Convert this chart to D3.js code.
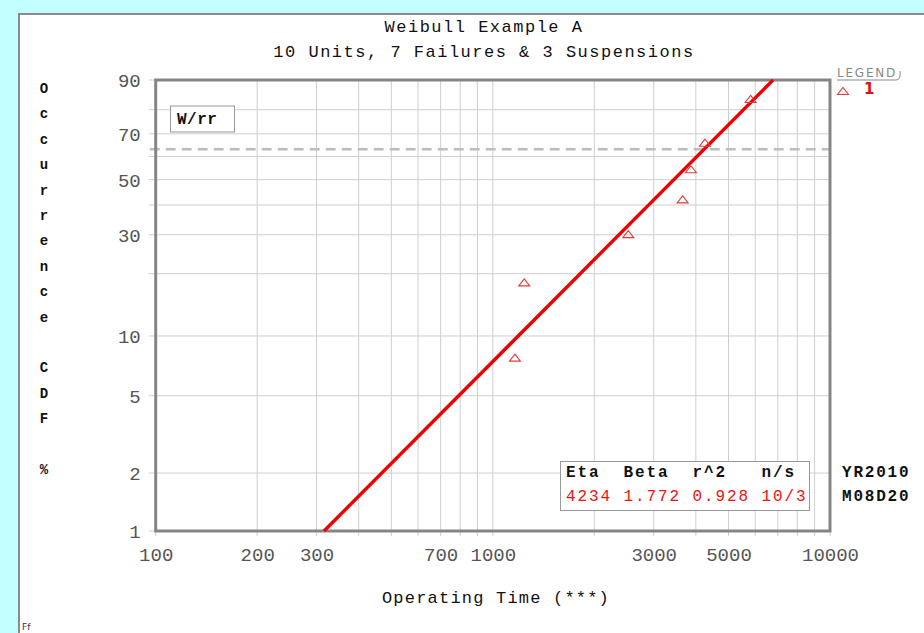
<!DOCTYPE html>
<html><head><meta charset="utf-8">
<script src="https://cdn.jsdelivr.net/npm/d3@7"></script>
<style>
html,body{margin:0;padding:0;background:#c4ffff;}
svg{display:block;}
text{white-space:pre;}
</style></head>
<body>
<svg id="chart" width="924" height="633"></svg>
<script>
// ---------- data ----------
const titleLines = ["Weibull Example A", "10 Units, 7 Failures & 3 Suspensions"];
const xTickLabels = [100, 200, 300, 700, 1000, 3000, 5000, 10000];
const xGrid = [100,200,300,400,500,600,700,800,900,1000,2000,3000,4000,5000,6000,7000,8000,9000,10000];
const yTickLabels = [1, 2, 5, 10, 30, 50, 70, 90];
const yGrid = [1, 2, 5, 10, 20, 30, 40, 50, 60, 70, 80, 90];
const failTimes = [1163, 1239, 2521, 3655, 3868, 4256, 5815];
const failCDF = [7.8, 18.2, 30.2, 42.1, 54.4, 66.1, 84.0];
const eta = 4234, beta = 1.772;
const fitCDF = [1, 90];
const etaLineCDF = 63.2;
const yLabelChars = ["O","c","c","u","r","r","e","n","c","e","","C","D","F","","%"];
const tableHeader = "Eta  Beta  r^2   n/s";
const tableValues = "4234 1.772 0.928 10/3";
const dateLines = ["YR2010", "M08D20"];

// ---------- layout ----------
const L = 155.7, R = 830, T = 80, B = 531;
const svg = d3.select("#chart");
const mono = "'Liberation Mono', 'DejaVu Sans Mono', monospace";

const weib = p => Math.log(-Math.log(1 - p / 100));
const x = d3.scaleLog().domain([100, 10000]).range([L, R]);
const y = d3.scaleLinear().domain([weib(1), weib(90)]).range([B, T]);

// panel
svg.append("rect").attr("x", 18).attr("y", 13).attr("width", 906).attr("height", 620).attr("fill", "#fff");
svg.append("path").attr("d", "M19,633V14H924").attr("fill", "none").attr("stroke", "#8a8a8a").attr("stroke-width", 2);

// titles
svg.selectAll("text.title").data(titleLines).join("text")
  .attr("class", "title")
  .attr("x", 484).attr("y", (d, i) => 32 + i * 25)
  .attr("text-anchor", "middle")
  .attr("font-family", mono).attr("font-size", 17).attr("letter-spacing", 1.5)
  .attr("fill", "#111").text(d => d);

// grid
const g = svg.append("g");
g.selectAll("line.vg").data(xGrid).join("line").attr("class", "vg")
  .attr("x1", d => x(d)).attr("x2", d => x(d)).attr("y1", T).attr("y2", B + 5)
  .attr("stroke", "#cfcfcf").attr("stroke-width", 1);
g.selectAll("line.hg").data(yGrid).join("line").attr("class", "hg")
  .attr("y1", d => y(weib(d))).attr("y2", d => y(weib(d))).attr("x1", L - 7).attr("x2", R)
  .attr("stroke", "#cfcfcf").attr("stroke-width", 1);

// eta dashed line
svg.append("line").attr("x1", L - 6).attr("x2", R).attr("y1", y(weib(etaLineCDF))).attr("y2", y(weib(etaLineCDF)))
  .attr("stroke", "#bdbdbd").attr("stroke-width", 2.5).attr("stroke-dasharray", "10,6");

// axes (labels)
const xAxis = svg.append("g").attr("transform", `translate(0,${B})`)
  .call(d3.axisBottom(x).tickValues(xTickLabels).tickSize(0).tickFormat(d => String(d)));
xAxis.select(".domain").remove();
xAxis.selectAll("text").attr("y", 30).attr("dy", 0)
  .attr("font-family", mono).attr("font-size", 19).attr("fill", "#555");

const yAxis = svg.append("g").attr("transform", `translate(${L},0)`)
  .call(d3.axisLeft(y).tickValues(yTickLabels.map(weib)).tickSize(0).tickFormat((d, i) => String(yTickLabels[i])));
yAxis.select(".domain").remove();
yAxis.selectAll("text").attr("x", -15).attr("dy", "0.36em")
  .attr("font-family", mono).attr("font-size", 19).attr("fill", "#555");

// plot frame
svg.append("rect").attr("x", L).attr("y", T).attr("width", R - L).attr("height", B - T)
  .attr("fill", "none").attr("stroke", "#858585").attr("stroke-width", 3);

// fit line
const fitPts = fitCDF.map(p => [eta * Math.pow(-Math.log(1 - p / 100), 1 / beta), p]);
svg.append("path").datum(fitPts)
  .attr("d", d3.line().x(d => x(d[0])).y(d => y(weib(d[1]))))
  .attr("stroke", "#ee0000").attr("stroke-width", 3.4).attr("fill", "none");

// triangles
const tri = { draw(ctx, size) { const w = 5.5, h = 3.5; ctx.moveTo(0, -h); ctx.lineTo(w, h); ctx.lineTo(-w, h); ctx.closePath(); } };
const pts = failTimes.map((t, i) => [t, failCDF[i]]);
svg.selectAll("path.pt").data(pts).join("path").attr("class", "pt")
  .attr("transform", d => `translate(${x(d[0])},${y(weib(d[1]))})`)
  .attr("d", d3.symbol().type(tri)())
  .attr("fill", "none").attr("stroke", "#e23a3a").attr("stroke-width", 1.1);

// W/rr box
svg.append("rect").attr("x", 170.5).attr("y", 106).attr("width", 64).attr("height", 26)
  .attr("fill", "#fff").attr("stroke", "#999").attr("stroke-width", 1);
svg.append("text").attr("x", 177).attr("y", 124).attr("font-family", mono).attr("font-weight", "bold")
  .attr("font-size", 16).attr("letter-spacing", 0.5).attr("fill", "#111").text("W/rr");

// table box
svg.append("rect").attr("x", 560.5).attr("y", 461.5).attr("width", 249).attr("height", 49)
  .attr("fill", "#fff").attr("stroke", "#999").attr("stroke-width", 1);
svg.append("text").attr("x", 566).attr("y", 477).attr("font-family", mono).attr("font-weight", "bold")
  .attr("font-size", 16).attr("letter-spacing", 1.9).attr("fill", "#111").text(tableHeader);
svg.append("text").attr("x", 566).attr("y", 501).attr("font-family", mono)
  .attr("font-size", 16).attr("letter-spacing", 1.9).attr("fill", "#ee1111").text(tableValues);

// date
svg.selectAll("text.date").data(dateLines).join("text").attr("class", "date")
  .attr("x", 842).attr("y", (d, i) => 477 + i * 24).attr("font-family", mono).attr("font-weight", "bold")
  .attr("font-size", 16).attr("letter-spacing", 1.8).attr("fill", "#111").text(d => d);

// legend
svg.append("text").attr("x", 837).attr("y", 77).attr("font-family", "'DejaVu Sans', sans-serif")
  .attr("font-size", 12).attr("letter-spacing", 1.8).attr("fill", "#888").text("LEGEND");
svg.append("path").attr("d", "M837,80H896Q901,80 900,71").attr("fill", "none").attr("stroke", "#888").attr("stroke-width", 1);
svg.append("path").attr("transform", "translate(843,91)").attr("d", d3.symbol().type(tri)())
  .attr("fill", "none").attr("stroke", "#e23a3a").attr("stroke-width", 1.1);
svg.append("text").attr("x", 864).attr("y", 94).attr("font-family", "'DejaVu Sans', sans-serif").attr("font-weight", "bold")
  .attr("font-size", 15).attr("fill", "#e01010").text("1");

// y label (stacked letters)
svg.selectAll("text.ylab").data(yLabelChars).join("text").attr("class", "ylab")
  .attr("x", 44).attr("y", (d, i) => 88 + i * 25.4).attr("dy", "0.35em").attr("text-anchor", "middle")
  .attr("font-family", mono).attr("font-weight", "bold").attr("font-size", 14).attr("fill", "#111").text(d => d);

// x label
svg.append("text").attr("x", 496).attr("y", 603).attr("text-anchor", "middle")
  .attr("font-family", mono).attr("font-size", 17).attr("letter-spacing", 1.2).attr("fill", "#111")
  .text("Operating Time (***)");

// corner mark
svg.append("text").attr("x", 22).attr("y", 630).attr("font-family", "'DejaVu Sans', sans-serif")
  .attr("font-size", 9).attr("fill", "#333").text("Ff");
</script>
</body></html>
